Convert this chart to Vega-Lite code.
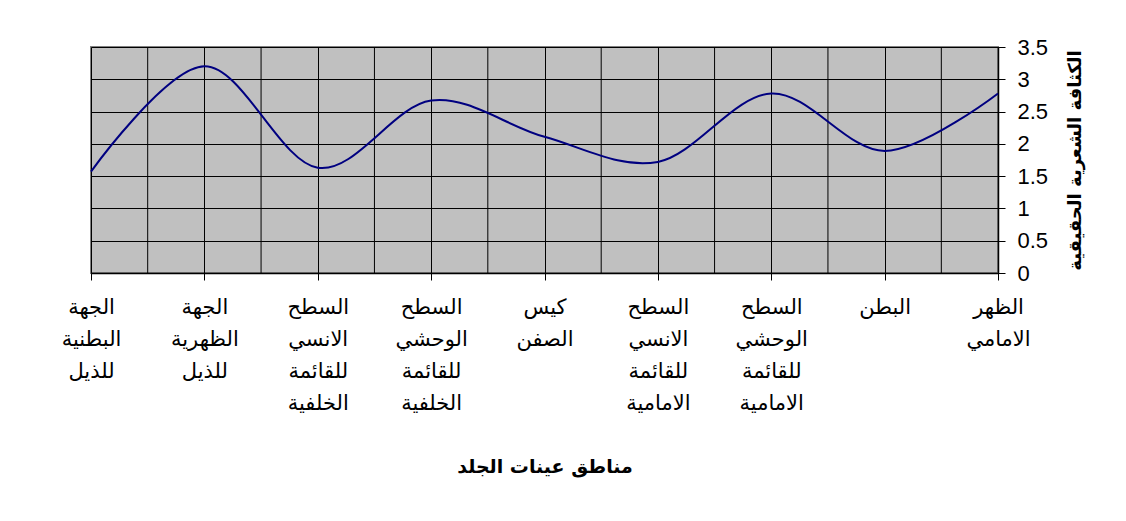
{
  "$schema": "https://vega.github.io/schema/vega-lite/v6.json",
  "width": 907,
  "height": 226,
  "autosize": "none",
  "padding": {"left": 91, "top": 47, "right": 128, "bottom": 248},
  "background": "white",
  "config": {
    "view": {"fill": "#C0C0C0", "stroke": "#808080", "strokeWidth": 2},
    "axis": {"labelColor": "black", "titleColor": "black", "domainColor": "black", "tickColor": "black", "gridColor": "black", "gridOpacity": 1, "gridWidth": 1, "domainWidth": 1.5, "tickWidth": 1}
  },
  "data": {
    "values": [
      {"region": "الجهة\nالبطنية\nللذيل", "density": 1.57},
      {"region": "الجهة\nالظهرية\nللذيل", "density": 3.2},
      {"region": "السطح\nالانسي\nللقائمة\nالخلفية", "density": 1.63},
      {"region": "السطح\nالوحشي\nللقائمة\nالخلفية", "density": 2.67},
      {"region": "كيس\nالصفن", "density": 2.11},
      {"region": "السطح\nالانسي\nللقائمة\nالامامية", "density": 1.72},
      {"region": "السطح\nالوحشي\nللقائمة\nالامامية", "density": 2.78},
      {"region": "البطن", "density": 1.89},
      {"region": "الظهر\nالامامي", "density": 2.78}
    ]
  },
  "encoding": {
    "x": {
      "field": "region",
      "type": "nominal",
      "sort": null,
      "scale": {"type": "point", "padding": 0},
      "axis": {
        "title": "مناطق عينات الجلد",
        "titleFont": "DejaVu Sans",
        "titleFontSize": 19,
        "titleFontWeight": "bold",
        "titlePadding": 44,
        "labelFont": "DejaVu Sans",
        "labelFontSize": 21,
        "labelFontWeight": "normal",
        "labelAngle": 0,
        "labelAlign": "center",
        "labelBaseline": "top",
        "labelLineHeight": 32,
        "labelPadding": 16,
        "labelExpr": "split(datum.label, '\\n')",
        "labelOverlap": false,
        "tickSize": 7,
        "grid": true
      }
    }
  },
  "layer": [
    {
      "mark": {"type": "rule", "color": "black", "strokeWidth": 1, "clip": true, "xOffset": {"expr": "width/16"}}
    },
    {
      "mark": {"type": "line", "interpolate": "cardinal", "color": "#000080", "strokeWidth": 2},
      "encoding": {
        "y": {
          "field": "density",
          "type": "quantitative",
          "scale": {"domain": [0, 3.5], "nice": false},
          "axis": {
            "orient": "right",
            "values": [0, 0.5, 1, 1.5, 2, 2.5, 3, 3.5],
            "format": "~g",
            "title": "الكثافة الشعرية الحقيقية",
            "titleAngle": -90,
            "titleBaseline": "top",
            "titleFont": "DejaVu Sans",
            "titleFontSize": 18,
            "titleFontWeight": "bold",
            "titlePadding": 19,
            "labelFont": "Liberation Sans",
            "labelFontSize": 22,
            "labelPadding": 12,
            "labelAlign": "left",
            "labelBaseline": "middle",
            "tickSize": 7,
            "grid": true
          }
        }
      }
    }
  ]
}
